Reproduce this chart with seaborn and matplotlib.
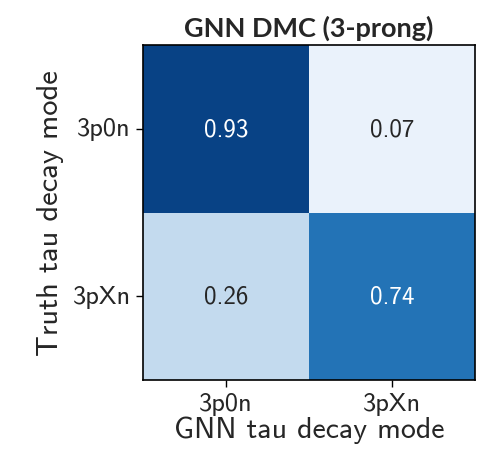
import matplotlib
matplotlib.use("Agg")
import matplotlib.pyplot as plt
import seaborn as sns
import numpy as np
import pandas as pd

pred_labels = ["3p0n", "3pXn"]
truth_labels = ["3p0n", "3pXn"]
row_3p0n = [0.93, 0.07]
row_3pXn = [0.26, 0.74]

sns.set_theme(style="white")
plt.rcParams['font.family'] = ['cmss10', 'DejaVu Sans']
plt.rcParams['axes.unicode_minus'] = False

df = pd.DataFrame([row_3p0n, row_3pXn], index=truth_labels, columns=pred_labels)

fig = plt.figure(figsize=(4.82, 4.52), dpi=100)
ax = fig.add_axes([0.2967, 0.1571, 0.6888, 0.7411])
sns.heatmap(df, ax=ax, cmap="Blues", vmin=0, vmax=1, annot=True, fmt=".2f",
            cbar=False, square=False, annot_kws={"fontsize": 18})
for s in ax.spines.values():
    s.set_visible(True)
    s.set_color("black")
    s.set_linewidth(1.2)
ax.tick_params(axis='both', which='both', length=5, width=1, color='black',
               labelsize=19, bottom=True, left=True, pad=4)
ax.set_yticklabels(truth_labels, rotation=0, va='center')
ax.set_xticklabels(pred_labels, rotation=0)
ax.set_xlabel("GNN tau decay mode", fontsize=21.5, labelpad=0)
ax.set_ylabel("Truth tau decay mode", fontsize=22, labelpad=6)
ax.set_title("GNN DMC (3-prong)", fontsize=19.5, fontweight='bold', family='Lato', pad=7)
fig.savefig("out.png", dpi=100)
